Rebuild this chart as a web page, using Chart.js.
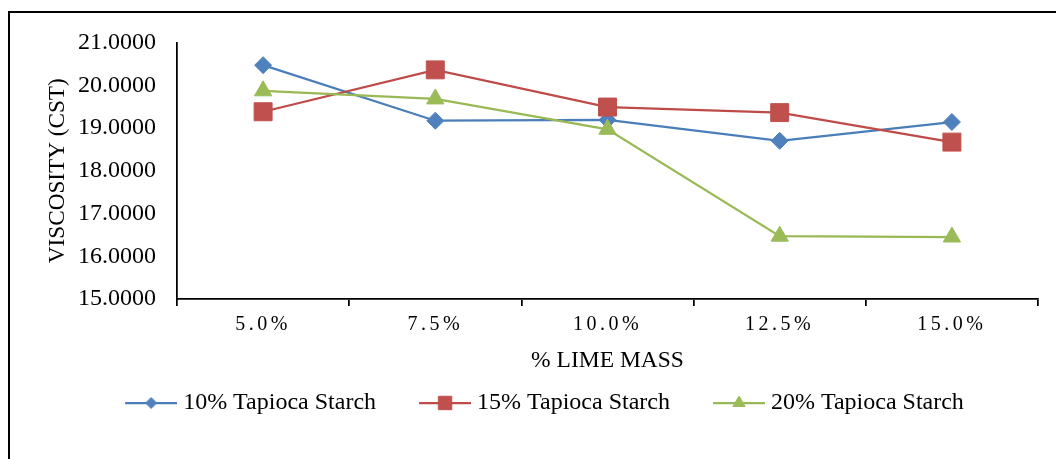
<!DOCTYPE html>
<html>
<head>
<meta charset="utf-8">
<title>Viscosity vs lime mass</title>
<script src="https://cdn.jsdelivr.net/npm/chart.js@4.4.1/dist/chart.umd.min.js"></script>
<style>
  html, body { margin: 0; padding: 0; background: #fff; overflow: hidden; }
  #wrap { position: relative; width: 1056px; height: 459px; }
  #wrap canvas { position: absolute; left: 0; top: 0; }
  #frame { position: absolute; left: 8px; top: 11px; width: 1200px; height: 600px;
           border-left: 2px solid #000; border-top: 2px solid #000; pointer-events: none; }
</style>
</head>
<body>
<div id="wrap">
  <canvas id="chart" width="1056" height="459"></canvas>
  <div id="frame"></div>
</div>
<script>
// Lime mass share on the x axis
const limeMass = ['5.0%', '7.5%', '10.0%', '12.5%', '15.0%'];

// Viscosity (cSt) for each tapioca starch dosage
const starch10 = [20.47, 19.17, 19.19, 18.70, 19.14];
const starch15 = [19.38, 20.36, 19.49, 19.36, 18.67];
const starch20 = [19.87, 19.68, 18.97, 16.47, 16.45];

const seriesNames = ['10% Tapioca Starch', '15% Tapioca Starch', '20% Tapioca Starch'];

// Value axis range
const yMin = 15;
const yMax = 21;
const yStep = 1;

const SERIF = '"Liberation Serif", "Times New Roman", Times, serif';

const styles = [
  { line: '#4A7EBB', fill: '#4F81BD', point: 'rectRot',  radius: 8.5,  legendRadius: 5.5 },
  { line: '#BE4B48', fill: '#C0504D', point: 'rect',     radius: 12.7, legendRadius: 9.5 },
  { line: '#98B954', fill: '#9BBB59', point: 'triangle', radius: 10,   legendRadius: 7 }
];

// Legend sample: a short line segment with the series marker in its middle
const SAMPLE_W = 91;
function legendSample(st) {
  const cv = document.createElement('canvas');
  cv.width = SAMPLE_W; cv.height = 24;
  const g = cv.getContext('2d');
  g.strokeStyle = st.line; g.lineWidth = 2.25;
  g.beginPath(); g.moveTo(SAMPLE_W - 52, 12); g.lineTo(SAMPLE_W, 12); g.stroke();
  g.fillStyle = st.fill; g.strokeStyle = st.fill; g.lineWidth = 1;
  Chart.helpers.drawPoint(g, { pointStyle: st.point, radius: st.legendRadius, borderWidth: 1, rotation: 0 },
                          SAMPLE_W - 26, 12);
  return cv;
}
const legendSamples = styles.map(legendSample);

const values = [starch10, starch15, starch20];
const datasets = values.map((d, i) => ({
  label: seriesNames[i],
  data: d,
  borderColor: styles[i].line,
  backgroundColor: styles[i].fill,
  borderWidth: 2.25,
  pointStyle: styles[i].point,
  pointRadius: styles[i].radius,
  pointHoverRadius: styles[i].radius,
  pointBackgroundColor: styles[i].fill,
  pointBorderColor: styles[i].fill,
  pointBorderWidth: 1,
  tension: 0,
  order: values.length - i   // later series on top
}));

// Spaced-out category labels on the x axis
const spacedLabels = {
  id: 'spacedLabels',
  beforeDraw(chart) {
    const s = chart.scales.x;
    if (s && !s._spaced) {
      const orig = s.drawLabels;
      s.drawLabels = function (area) {
        const c = this.ctx;
        c.save();
        c.letterSpacing = '3.5px';
        orig.call(this, area);
        c.restore();
      };
      s._spaced = true;
    }
  }
};

new Chart(document.getElementById('chart'), {
  type: 'line',
  data: { labels: limeMass, datasets },
  plugins: [spacedLabels],
  options: {
    responsive: false,
    devicePixelRatio: 1,
    animation: false,
    events: [],
    layout: { padding: { left: 18, right: 18, top: 42.5, bottom: 34 } },
    scales: {
      x: {
        type: 'category',
        offset: true,
        grid: { display: true, offset: true, drawOnChartArea: false, drawTicks: true,
                tickLength: 7, color: '#000', lineWidth: 1.75 },
        border: { display: true, color: '#000', width: 1.75 },
        ticks: { color: '#000', padding: 7, maxRotation: 0, autoSkip: false,
                 font: { family: SERIF, size: 20 } },
        title: { display: true, text: '% LIME MASS', color: '#000',
                 font: { family: SERIF, size: 23.5 }, padding: { top: 0, bottom: 6.5 } },
        afterFit(scale) { scale.height = 82; }
      },
      y: {
        min: yMin, max: yMax,
        grid: { display: false, drawTicks: false },
        border: { display: true, color: '#000', width: 1.75 },
        ticks: { stepSize: yStep, color: '#000', padding: 21,
                 font: { family: SERIF, size: 24 },
                 callback: (v) => Number(v).toFixed(4) },
        title: { display: true, text: 'VISCOSITY (CST)', color: '#000',
                 font: { family: SERIF, size: 23.2 }, padding: { top: 26, bottom: 0 } },
        afterFit(scale) { scale.width = 159; }
      }
    },
    plugins: {
      tooltip: { enabled: false },
      legend: {
        position: 'bottom',
        align: 'center',
        labels: {
          usePointStyle: true,
          pointStyleWidth: SAMPLE_W - 12,
          boxHeight: 24,
          padding: 10,
          color: '#000',
          font: { family: SERIF, size: 24 },
          sort: (a, b) => a.datasetIndex - b.datasetIndex,
          generateLabels(chart) {
            const items = Chart.defaults.plugins.legend.labels.generateLabels(chart);
            items.forEach((it) => { it.pointStyle = legendSamples[it.datasetIndex]; });
            return items;
          }
        }
      }
    }
  }
});
</script>
</body>
</html>
